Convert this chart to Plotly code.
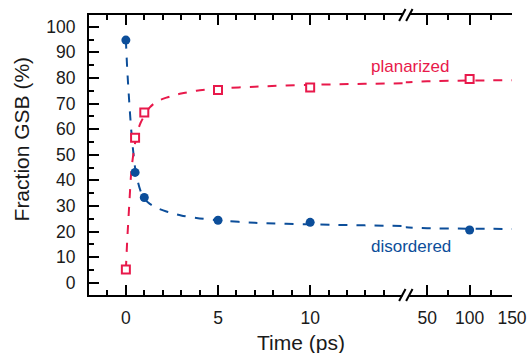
import plotly.graph_objects as go

# ---- data ----
time_ps = [0, 0.5, 1, 5, 10, 100]
disordered = [94.8, 43.1, 33.3, 24.4, 23.6, 20.6]
planarized = [5.2, 56.6, 66.5, 75.3, 76.3, 79.6]

fit_time = [0, 0.07, 0.18, 0.31, 0.5, 0.65, 0.8, 1.0, 1.3, 1.66, 2.2, 3.0, 3.83, 5, 7, 10, 15, 25, 50, 100, 150]
fit_disordered = [95, 84, 71, 58, 45, 39.5, 35.8, 32.8, 30.8, 29.3, 27.8, 26.3, 25.3, 24.4, 23.4, 22.8, 22.2, 21.7, 21.3, 21.1, 21.0]
fit_planarized = [5, 16, 30, 44.7, 54.5, 59.5, 62.5, 65.2, 68.5, 70.7, 72.3, 73.9, 75.0, 75.8, 76.6, 77.3, 77.9, 78.3, 78.7, 79.0, 79.1]

left_ticks = [0, 5, 10]
right_ticks = [50, 100, 150]

BLUE = "#0c4e9a"
RED = "#e8194b"
FONT = "Liberation Sans, Arial, sans-serif"
TXT = "#1a1a1a"

W, H = 527, 353
ML, MR, MT, MB = 89, 15.3, 15, 58
PW = W - ML - MR
PH = H - MT - MB
BREAK = 0.749  # paper fraction where x axis breaks

fig = go.Figure()

for xa in ("x", "x2"):
    fig.add_trace(go.Scatter(x=fit_time, y=fit_disordered, xaxis=xa, yaxis="y", mode="lines",
                             line=dict(color=BLUE, width=2, dash="dash", shape="spline", smoothing=0.8),
                             showlegend=False, hoverinfo="skip"))
    fig.add_trace(go.Scatter(x=fit_time, y=fit_planarized, xaxis=xa, yaxis="y", mode="lines",
                             line=dict(color=RED, width=2, dash="dash", shape="spline", smoothing=0.8),
                             showlegend=False, hoverinfo="skip"))
for xa in ("x", "x2"):
    fig.add_trace(go.Scatter(x=time_ps, y=disordered, xaxis=xa, yaxis="y", mode="markers",
                             marker=dict(color=BLUE, size=9, symbol="circle"),
                             showlegend=False))
    fig.add_trace(go.Scatter(x=time_ps, y=planarized, xaxis=xa, yaxis="y", mode="markers",
                             marker=dict(color="white", size=8, symbol="square",
                                         line=dict(color=RED, width=2)),
                             showlegend=False))

tickfont = dict(family=FONT, size=17.5, color=TXT)
common_x = dict(showline=True, linecolor="black", linewidth=2, mirror="ticks",
                ticks="inside", ticklen=10, tickwidth=1.5, tickcolor="black",
                showgrid=False, zeroline=False, tickfont=tickfont,
                ticklabelstandoff=6, automargin=False)

fig.update_layout(
    template="none",
    width=W, height=H,
    margin=dict(l=ML, r=MR, t=MT, b=MB, pad=0, autoexpand=False),
    paper_bgcolor="white", plot_bgcolor="white",
    xaxis=dict(domain=[0, BREAK], range=[-2.0, 15.19], anchor="y",
               tickmode="array", tickvals=left_ticks,
               minor=dict(tickmode="array", tickvals=[-1, 1, 2, 3, 4, 6, 7, 8, 9, 11, 12, 13, 14],
                          ticks="inside", ticklen=5, tickwidth=1.5, tickcolor="black", showgrid=False),
               **common_x),
    xaxis2=dict(domain=[BREAK, 1], range=[24.76, 150], anchor="y",
                tickmode="array", tickvals=right_ticks,
                minor=dict(tickmode="array", tickvals=[75, 125],
                           ticks="inside", ticklen=5, tickwidth=1.5, tickcolor="black", showgrid=False),
                **common_x),
    yaxis=dict(domain=[0, 1], range=[-4.8, 104.6], anchor="x", side="left",
               tickmode="linear", tick0=0, dtick=10,
               minor=dict(dtick=5, tick0=0, ticks="inside", ticklen=5, tickwidth=1.5,
                          tickcolor="black", showgrid=False),
               showline=True, linecolor="black", linewidth=2,
               ticks="inside", ticklen=10, tickwidth=1.5, tickcolor="black",
               showgrid=False, zeroline=False, tickfont=tickfont, ticklabelstandoff=8,
               automargin=False),
    yaxis2=dict(overlaying="y", matches="y", range=[-4.8, 104.6], anchor="x2", side="right",
                tickmode="linear", tick0=0, dtick=10,
                minor=dict(dtick=5, tick0=0, ticks="inside", ticklen=5, tickwidth=1.5,
                           tickcolor="black", showgrid=False),
                showline=True, linecolor="black", linewidth=2,
                ticks="inside", ticklen=10, tickwidth=1.5, tickcolor="black",
                showgrid=False, zeroline=False, showticklabels=False, automargin=False),
)

def px_x(px):
    return (px - ML) / PW

def px_y(py):
    return (H - MB - py) / PH

annotations = [
    dict(text="Fraction GSB (%)", x=px_x(22), y=px_y(138.5), xref="paper", yref="paper",
         textangle=-90, showarrow=False, xanchor="center", yanchor="middle",
         font=dict(family=FONT, size=21, color=TXT)),
    dict(text="Time (ps)", x=px_x(301), y=px_y(342), xref="paper", yref="paper",
         showarrow=False, xanchor="center", yanchor="middle",
         font=dict(family=FONT, size=21, color=TXT)),
    dict(text="planarized", x=px_x(409.7), y=px_y(66), xref="paper", yref="paper",
         showarrow=False, xanchor="center", yanchor="middle",
         font=dict(family=FONT, size=17, color=RED)),
    dict(text="disordered", x=px_x(410.3), y=px_y(247), xref="paper", yref="paper",
         showarrow=False, xanchor="center", yanchor="middle",
         font=dict(family=FONT, size=17, color=BLUE)),
]
fig.update_layout(annotations=annotations)

# axis break marks (//) at bottom and top
shapes = []
for yanc in (0, 1):
    shapes.append(dict(type="rect", xref="paper", yref="paper", xsizemode="pixel", ysizemode="pixel",
                       xanchor=BREAK, yanchor=yanc, x0=-3.5, x1=3.5, y0=-2.5, y1=2.5,
                       fillcolor="white", line=dict(width=0), layer="above"))
    for cx in (-3.5, 3.5):
        shapes.append(dict(type="line", xref="paper", yref="paper", xsizemode="pixel", ysizemode="pixel",
                           xanchor=BREAK, yanchor=yanc, x0=cx - 3.2, x1=cx + 3.2, y0=-6, y1=6,
                           line=dict(color="black", width=2), layer="above"))
fig.update_layout(shapes=shapes)

fig.write_html("out.html", config={"displayModeBar": False},
               post_script="document.body.style.margin='0';document.body.style.padding='0';document.body.style.overflow='hidden';")
